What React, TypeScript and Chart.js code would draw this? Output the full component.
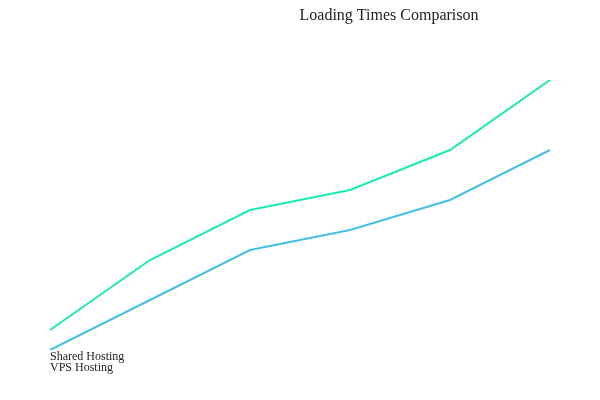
import { useEffect, useRef } from 'react';
import { Chart, registerables } from 'chart.js';

Chart.register(...registerables);

const labels = ['1', '2', '3', '4', '5', '6'];
const sharedHosting = [3.2, 4.6, 5.6, 6.0, 6.8, 8.2];
const vpsHosting = [2.8, 3.8, 4.8, 5.2, 5.8, 6.8];
const seriesNames = ['Shared Hosting', 'VPS Hosting'];
const chartTitle = 'Loading Times Comparison';

export default function App() {
  const canvasRef = useRef<HTMLCanvasElement | null>(null);

  useEffect(() => {
    if (!canvasRef.current) return;
    const chart = new Chart(canvasRef.current, {
      type: 'line',
      data: {
        labels,
        datasets: [
          {
            label: seriesNames[0],
            data: sharedHosting,
            borderColor: '#1ee8b4',
            borderWidth: 2,
            pointRadius: 0,
            tension: 0,
            fill: false,
          },
          {
            label: seriesNames[1],
            data: vpsHosting,
            borderColor: '#45bfe6',
            borderWidth: 2,
            pointRadius: 0,
            tension: 0,
            fill: false,
          },
        ],
      },
      options: {
        animation: false,
        responsive: false,
        layout: { padding: { left: 50, right: 50, top: 80, bottom: 50 } },
        plugins: { legend: { display: false }, title: { display: false }, tooltip: { enabled: false } },
        scales: {
          x: { display: false },
          y: { display: false, min: 2.8, max: 8.2 },
        },
      },
      plugins: [{
        id: 'texts',
        afterDraw(c) {
          const { ctx } = c;
          ctx.save();
          ctx.fillStyle = '#222';
          ctx.textBaseline = 'middle';
          ctx.font = '16px "Liberation Serif", serif';
          ctx.textAlign = 'center';
          ctx.fillText(chartTitle, 389, 16);
          ctx.font = '12px "Liberation Serif", serif';
          ctx.textAlign = 'left';
          ctx.fillText(seriesNames[0], 50, 357);
          ctx.fillText(seriesNames[1], 50, 368);
          ctx.restore();
        },
      }],
    });
    return () => { chart.destroy(); };
  }, []);

  return (
    <div style={{ position: 'absolute', left: 0, top: 0, width: 600, height: 400 }}>
      <canvas ref={canvasRef} width={600} height={400} />
    </div>
  );
}
